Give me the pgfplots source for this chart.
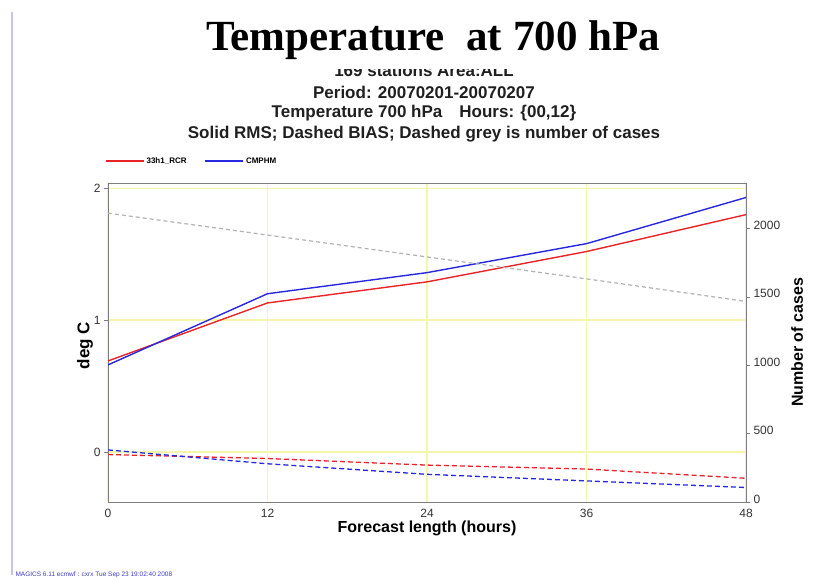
\documentclass[border=0pt]{standalone}
\usepackage{pgfplots}
\pgfplotsset{compat=1.18}
\usepackage{pgfplotstable}
\usepackage{fontspec}
\setmainfont{Liberation Sans}
\newfontfamily\titlefont{Liberation Serif}

\definecolor{rcrred}{RGB}{232,36,40}
\definecolor{cmpblue}{RGB}{40,40,222}
\definecolor{gridyellow}{RGB}{246,246,170}
\definecolor{casegrey}{RGB}{178,178,178}
\definecolor{axisgrey}{RGB}{125,125,125}
\definecolor{footblue}{RGB}{60,60,200}

% RMS (solid) and BIAS (dashed), deg C
\pgfplotstableread{
h   rcr   cmphm  brcr   bcmphm
0   0.69  0.66   -0.02   0.015
12  1.13  1.20   -0.05  -0.09
24  1.29  1.36   -0.10  -0.17
36  1.52  1.58   -0.13  -0.22
48  1.80  1.93   -0.20  -0.27
}\scores

% number of cases
\pgfplotstableread{
h   n
0   2110
12  1950
24  1790
36  1630
48  1465
}\cases

\begin{document}
\begin{tikzpicture}[x=1pt,y=1pt]
\useasboundingbox (0,0) rectangle (819,579);

% slide border
\draw[color={rgb,255:red,200;green,195;blue,235},line width=1.2pt] (12,567) -- (12,4);

% subtitle lines
\tikzset{sub/.style={font=\bfseries\fontsize{17}{19}\selectfont, text=black!88}}
\node[sub] at (424,509) {169 stations Area:ALL};
\fill[white] (150,510) rectangle (700,579);
\node[sub] at (424,487) {Period: 20070201-20070207};
\node[sub] at (424,466) {Temperature 700 hPa\quad Hours: \{00,12\}};
\node[sub] at (424,445) {Solid RMS; Dashed BIAS; Dashed grey is number of cases};

% main title
\node[font=\titlefont\bfseries\fontsize{43}{48}\selectfont] at (433,539) {Temperature\ \ at 700 hPa};

% left axis: lower left corner of the box at (108pt,77pt)
\begin{axis}[
    at={(108pt,77pt)}, anchor=south west,
    scale only axis, width=638pt, height=319pt,
    xmin=0, xmax=48, ymin=-0.38, ymax=2.04,
    xtick={0,12,24,36,48}, ytick={0,1,2},
    xtick pos=bottom, ytick pos=left,
    tick align=outside,
    major tick length=4pt,
    major x tick style={draw=none},
    major y tick style={axisgrey},
    axis line style={axisgrey, line width=0.9pt},
    grid=major,
    major grid style={gridyellow, line width=1.2pt},
    tick label style={font=\fontsize{12}{13}\selectfont, text=black!80},
    /pgf/number format/assume math mode=true,
    xlabel={\bfseries Forecast length (hours)},
    xlabel style={font=\fontsize{16}{18}\selectfont, at={(axis description cs:0.5,-0.084)}, anchor=center},
    ylabel={\bfseries deg C},
    ylabel style={font=\fontsize{17}{19}\selectfont, at={(axis description cs:-0.036,0.49)}, anchor=center},
    legend columns=2,
    legend style={at={(0,1)}, anchor=south west, xshift=-6pt, yshift=14pt,
        draw=none, fill=none, font=\bfseries\fontsize{8}{9}\selectfont,
        /tikz/every even column/.append style={column sep=16pt}},
    legend image code/.code={\draw[#1] plot coordinates {(0pt,0pt) (38pt,0pt)};},
]
\addplot[color=rcrred, line width=1.4pt] table[x=h, y=rcr] {\scores};
\addlegendentry{33h1\_RCR}
\addplot[color=cmpblue, line width=1.4pt] table[x=h, y=cmphm] {\scores};
\addlegendentry{CMPHM}
\addplot[color=rcrred, line width=1.3pt, dash pattern=on 5pt off 3pt, forget plot] table[x=h, y=brcr] {\scores};
\addplot[color=cmpblue, line width=1.3pt, dash pattern=on 5pt off 3pt, forget plot] table[x=h, y=bcmphm] {\scores};
\end{axis}

% right axis: same box
\begin{axis}[
    at={(108pt,77pt)}, anchor=south west,
    scale only axis, width=638pt, height=319pt,
    xmin=0, xmax=48, ymin=0, ymax=2330,
    axis x line=none,
    axis y line*=right,
    ytick={0,500,1000,1500,2000},
    tick align=outside,
    major tick length=4pt,
    major y tick style={axisgrey},
    axis line style={axisgrey, line width=0.9pt},
    tick label style={font=\fontsize{12}{13}\selectfont, text=black!80},
    yticklabel style={yshift=3pt},
    /pgf/number format/assume math mode=true,
    /pgf/number format/set thousands separator={},
    ylabel={\bfseries Number of cases},
    ylabel style={font=\fontsize{16}{18}\selectfont, at={(axis description cs:1.08,0.50)}, anchor=center},
]
\addplot[color=casegrey, line width=1.2pt, dash pattern=on 4pt off 3pt] table[x=h, y=n] {\cases};
\end{axis}

% footer
\node[anchor=west, font=\fontsize{6.5}{7}\selectfont, text=footblue] at (12,4) {MAGICS 6.11 ecmwf : cxrx Tue Sep 23 19:02:40 2008};
\end{tikzpicture}
\end{document}
